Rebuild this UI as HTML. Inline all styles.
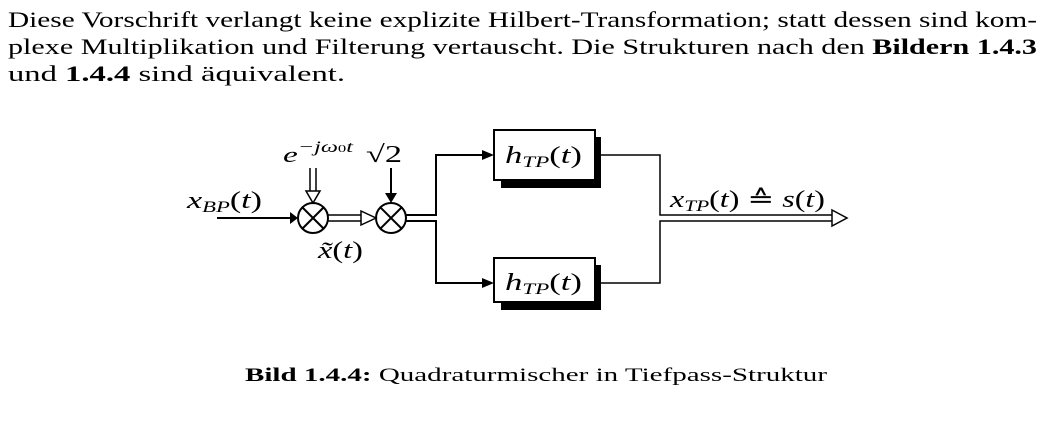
<!DOCTYPE html>
<html><head><style>
body{margin:0;width:1059px;height:422px;background:#fff;overflow:hidden}
svg{position:absolute;left:0;top:0}
.i{font-style:italic}
</style></head><body>
<svg width="1059" height="422" viewBox="0 0 1059 422" font-family="Liberation Serif, serif">
<text x="8" y="27" font-size="22" textLength="1029" lengthAdjust="spacingAndGlyphs">Diese Vorschrift verlangt keine explizite Hilbert-Transformation; statt dessen sind kom-</text>
<text x="8" y="54" font-size="22" textLength="1029" lengthAdjust="spacingAndGlyphs">plexe Multiplikation und Filterung vertauscht. Die Strukturen nach den <tspan font-weight="bold">Bildern 1.4.3</tspan></text>
<text x="8" y="81" font-size="22" textLength="337" lengthAdjust="spacingAndGlyphs">und <tspan font-weight="bold">1.4.4</tspan> sind äquivalent.</text>
<text x="245" y="381" font-size="19" textLength="582" lengthAdjust="spacingAndGlyphs"><tspan font-weight="bold">Bild 1.4.4:</tspan> Quadraturmischer in Tiefpass-Struktur</text>
<g stroke="#000" stroke-width="2" fill="none">
<line x1="217" y1="218" x2="290" y2="218"/>
<circle cx="313" cy="218" r="15"/><line x1="302" y1="207" x2="324" y2="229"/><line x1="324" y1="207" x2="302" y2="229"/>
<circle cx="391" cy="218" r="15"/><line x1="380" y1="207" x2="402" y2="229"/><line x1="402" y1="207" x2="380" y2="229"/>
<line x1="328" y1="215" x2="362" y2="215" stroke-width="1.5"/><line x1="328" y1="221" x2="362" y2="221" stroke-width="1.5"/>
<polygon points="361,211 376,218 361,225" fill="#fff" stroke-width="1.5"/>
<line x1="310" y1="168" x2="310" y2="192" stroke-width="1.5"/><line x1="316" y1="168" x2="316" y2="192" stroke-width="1.5"/>
<polygon points="306,191 313,203 320,191" fill="#fff" stroke-width="1.5"/>
<line x1="391" y1="168" x2="391" y2="195"/>
<polyline points="406,215 436,215 436,155 482,155"/>
<polyline points="406,221 436,221 436,283 482,283"/>
<polyline points="595,155 660,155 660,215 835,215" stroke-width="1.5"/>
<polyline points="595,283 660,283 660,221 835,221" stroke-width="1.5"/>
<polygon points="832,210 847,218 832,226" fill="#fff" stroke-width="1.5"/>
</g>
<g fill="#000">
<polygon points="290,212 298,218 290,224"/>
<polygon points="385,193 391,203 397,193"/>
<polygon points="482,150 494,155 482,160"/>
<polygon points="482,278 494,283 482,288"/>
<rect x="501" y="137" width="100" height="51"/>
<rect x="501" y="265" width="100" height="45"/>
</g>
<rect x="494" y="130" width="101" height="50" fill="#fff" stroke="#000" stroke-width="2"/>
<rect x="494" y="258" width="101" height="44" fill="#fff" stroke="#000" stroke-width="2"/>
<text x="505" y="163" font-size="24" textLength="77" lengthAdjust="spacingAndGlyphs"><tspan class="i">h</tspan><tspan class="i" font-size="16" dy="4">TP</tspan><tspan dy="-4">(</tspan><tspan class="i">t</tspan>)</text>
<text x="505" y="290" font-size="24" textLength="77" lengthAdjust="spacingAndGlyphs"><tspan class="i">h</tspan><tspan class="i" font-size="16" dy="4">TP</tspan><tspan dy="-4">(</tspan><tspan class="i">t</tspan>)</text>
<text x="187" y="208" font-size="24" textLength="75" lengthAdjust="spacingAndGlyphs"><tspan class="i">x</tspan><tspan class="i" font-size="16" dy="4">BP</tspan><tspan dy="-4">(</tspan><tspan class="i">t</tspan>)</text>
<text x="283" y="162" font-size="22" textLength="70" lengthAdjust="spacingAndGlyphs"><tspan class="i">e</tspan><tspan class="i" font-size="16" dy="-10">−jω</tspan><tspan font-size="11">0</tspan><tspan class="i" font-size="16">t</tspan></text>
<text x="366" y="162" font-size="24" textLength="36" lengthAdjust="spacingAndGlyphs">√2</text>
<text x="318" y="258" font-size="24" textLength="45" lengthAdjust="spacingAndGlyphs"><tspan class="i">x̃</tspan>(<tspan class="i">t</tspan>)</text>
<text x="670" y="207" font-size="24" textLength="155" lengthAdjust="spacingAndGlyphs"><tspan class="i">x</tspan><tspan class="i" font-size="16" dy="4">TP</tspan><tspan dy="-4">(</tspan><tspan class="i">t</tspan>) ≙ <tspan class="i">s</tspan>(<tspan class="i">t</tspan>)</text>
</svg>
</body></html>
